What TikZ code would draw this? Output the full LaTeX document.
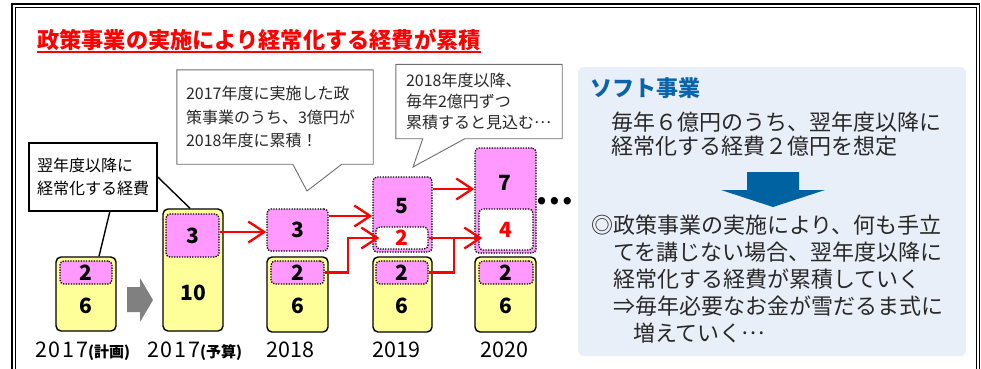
\documentclass[tikz,border=0pt]{standalone}
\usepackage{fontspec}
\setmainfont{Noto Sans CJK JP}
\usetikzlibrary{arrows.meta,calc,backgrounds}
\definecolor{ybar}{RGB}{255,255,153}
\definecolor{pbox}{RGB}{255,153,255}
\definecolor{panelbg}{RGB}{233,239,249}
\definecolor{dblue}{RGB}{0,98,160}
\definecolor{tblue}{RGB}{10,100,170}
\definecolor{txt}{RGB}{40,40,40}
\definecolor{cgray}{RGB}{110,110,110}
\definecolor{agray}{RGB}{128,128,128}
\newcommand\midell{\raisebox{0.32em}{…}}
\newcommand\yrsubfont{\fontsize{15}{15}\selectfont\bfseries}
\begin{document}
\begin{tikzpicture}[x=1pt,y=-1pt,
  yelbar/.style={draw=black,line width=1.4pt,fill=ybar,rounded corners=5pt,inner sep=0pt,minimum width=60pt,minimum height=75pt},
  pinkbox/.style={draw=black,line width=1.3pt,dash pattern=on 1.3pt off 1.3pt,fill=pbox,rounded corners=4pt,inner sep=0pt,font=\fontsize{21}{21}\selectfont\bfseries},
  whitebox/.style={pinkbox,fill=white,text=red},
  num/.style={font=\fontsize{21}{21}\selectfont\bfseries,inner sep=0pt},
  redarrow/.style={draw=red,line width=2.3pt,-{Straight Barb[length=16pt,width=21pt]}},
  redline/.style={draw=red,line width=2.3pt},
  year/.style={font=\fontsize{21.5}{21}\selectfont,inner sep=0pt,anchor=base west},
  calloutline/.style={draw=cgray,line width=0.9pt,fill=white},
  callouttext/.style={inner sep=0pt,text=txt,align=left},
  paneltext/.style={anchor=west,align=left,text=txt,inner sep=0pt}]
\useasboundingbox (0,0) rectangle (981,368);
% frame
\draw[line width=1.5pt] (12,370) -- (12,4) -- (979.5,4) -- (979.5,370);
\draw[line width=0.8pt] (15.5,370) -- (15.5,7.5) -- (976.5,7.5) -- (976.5,370);
% title
\node[anchor=base west,font=\fontsize{22.2}{22}\selectfont\bfseries,text=red,inner sep=0pt] (title) at (37,48.5) {政策事業の実施により経常化する経費が累積};
\draw[red,line width=1.3pt] ([yshift=-3.5pt]title.base west) -- ([yshift=-3.5pt]title.base east);
% bars
\node[yelbar,minimum height=74pt] (bar17p) at (86,294) {};
\node[pinkbox,minimum width=52pt,minimum height=23pt] (in17p) at (86,272.5) {2};
\node[num] (six17p) at (86,306) {6};
\node[yelbar,minimum height=122pt] (bar17b) at (193,270) {};
\node[pinkbox,minimum width=53pt,minimum height=43pt] (in17b) at (192.5,235.5) {3};
\node[num] (ten17b) at (193,293) {10};
\node[pinkbox,minimum width=61pt,minimum height=42pt] (top18) at (297.5,230) {3};
\node[yelbar,minimum width=61pt] (bar18) at (297.5,294.5) {};
\node[pinkbox,minimum width=53pt,minimum height=23pt] (in18) at (297.5,272.5) {2};
\node[num] (six18) at (297.5,306) {6};
\node[pinkbox,minimum width=59pt,minimum height=75pt] (top19) at (402.5,214.5) {};
\node[num] (five19) at (402,206) {5};
\node[whitebox,minimum width=52pt,minimum height=22pt] (white19) at (402,238) {2};
\node[yelbar,minimum width=59pt] (bar19) at (402.5,294.5) {};
\node[pinkbox,minimum width=52pt,minimum height=23pt] (in19) at (402,272.5) {2};
\node[num] (six19) at (402,306) {6};
\node[pinkbox,minimum width=61pt,minimum height=105pt] (top20) at (505.5,200.5) {};
\node[num] (seven20) at (505,182.5) {7};
\node[whitebox,minimum width=54pt,minimum height=41pt] (white20) at (506,229.5) {4};
\node[yelbar,minimum width=61pt] (bar20) at (505.5,294.5) {};
\node[pinkbox,minimum width=54pt,minimum height=23pt] (in20) at (506,272.5) {2};
\node[num] (six20) at (505.5,306) {6};
\node[font=\fontsize{34}{34}\selectfont\bfseries,inner sep=0pt] (dots) at (555,201) {…};
% gray arrow
\fill[agray] (127,287) -- (140,287) -- (140,278) -- (153,300) -- (140,322) -- (140,312) -- (127,312) -- cycle;
% red arrows
\coordinate (j19) at ($(white19.east)+(25,0)$);
\draw[redarrow] ([yshift=3.5pt]in17b.east) -- ([yshift=3.5pt]in17b.east -| top18.west);
\draw[redarrow] ([yshift=14pt]top18.east) -- ([yshift=14pt]top18.east -| top19.west);
\draw[redarrow] (in18.east) -- ++(23,0) |- ([xshift=4pt]white19.west);
\draw[redarrow] ([yshift=25.5pt]top19.east) -- ([yshift=25.5pt]top19.east -| top20.west);
\draw[redarrow] (white19.east) -- ([xshift=4pt]white19.east -| white20.west);
\draw[redline] (in19.east) -| (j19);
% years
\node[year] (y17p) at (35,357) {{\addfontfeature{LetterSpace=8}2017}{\yrsubfont(計画)}};
\node[year] (y17b) at (147,357) {{\addfontfeature{LetterSpace=8}2017}{\yrsubfont(予算)}};
\node[year,anchor=base] (y18) at (290.5,357) {2018};
\node[year,anchor=base] (y19) at (396.5,357) {2019};
\node[year,anchor=base] (y20) at (504.5,357) {2020};
% callout 1
\draw[line width=1.4pt] ($(93,177)+(17,34)$) coordinate (c1foot) -- ([xshift=13pt]bar17p.north);
\node[draw=black,line width=1.6pt,fill=white,minimum width=128pt,minimum height=68pt,align=left,font=\fontsize{16}{23}\selectfont,inner sep=0pt] (c1) at (93,177) {翌年度以降に\\経常化する経費};
\draw[line width=1.4pt] (c1.east) -- ([xshift=-3pt]bar17b.north);
% callout 2
\node[callouttext,minimum width=196pt,minimum height=94pt,text width=178pt,font=\fontsize{16}{23.5}\selectfont] (c2) at (275,117) {2017年度に実施した政\\策事業のうち、3億円が\\2018年度に累積！};
\coordinate (c2tip) at (307,191);
\begin{scope}[on background layer]
\draw[calloutline] (c2.north west) -- (c2.north east) -- (c2.south east) -- ($(c2.south west)+(165,0)$) -- (c2tip) -- ($(c2.south west)+(116,0)$) -- (c2.south west) -- cycle;
\end{scope}
% callout 3
\node[callouttext,minimum width=166pt,minimum height=74pt,text width=146pt,font=\fontsize{16}{21}\selectfont] (c3) at (479,101.5) {2018年度以降、\\毎年2億円ずつ\\累積すると見込む\midell};
\coordinate (c3tip) at (413,167);
\begin{scope}[on background layer]
\draw[calloutline] (c3.north west) -- (c3.north east) -- (c3.south east) -- ($(c3.south west)+(69,0)$) -- (c3tip) -- ($(c3.south west)+(27,0)$) -- (c3.south west) -- cycle;
\end{scope}
% right panel
\node[fill=panelbg,rounded corners=6pt,minimum width=388pt,minimum height=289pt,inner sep=0pt] (panel) at (772,211.5) {};
\node[anchor=west,font=\fontsize{22}{22}\selectfont\bfseries,text=tblue,inner sep=0pt] (soft) at (590,88) {ソフト事業};
\node[paneltext,font=\fontsize{22}{24}\selectfont] (p1) at (611,134) {毎年６億円のうち、翌年度以降に\\経常化する経費２億円を想定};
\fill[dblue] (747,172) -- (799,172) -- (799,190) -- (825,190) -- (773,207) -- (721,190) -- (747,190) -- cycle;
\node[paneltext,font=\fontsize{22}{27}\selectfont] (p2) at (591,279) {◎政策事業の実施により、何も手立\\\hspace*{1em}てを講じない場合、翌年度以降に\\\hspace*{1em}経常化する経費が累積していく\\\hspace*{1em}⇒毎年必要なお金が雪だるま式に\\\hspace*{1.9em}増えていく\midell};
\end{tikzpicture}
\end{document}
